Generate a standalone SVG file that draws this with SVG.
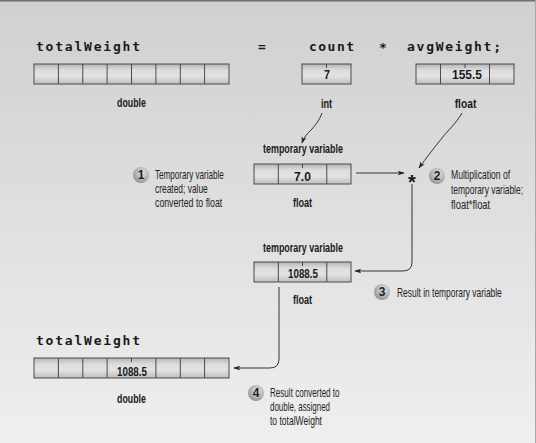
<svg xmlns="http://www.w3.org/2000/svg" width="536" height="443" viewBox="0 0 536 443">
<style>
.code{font-family:"DejaVu Sans Mono","Liberation Mono",monospace;font-weight:bold;font-size:13px;fill:#1a1a1a}
.lbl{font-family:"Liberation Sans Narrow","Liberation Sans",Arial,sans-serif;font-size:13px;font-weight:bold;fill:#1a1a1a;text-anchor:middle}
.num{font-family:"Liberation Sans Narrow","Liberation Sans",Arial,sans-serif;font-size:13.5px;font-weight:bold;fill:#1a1a1a;text-anchor:middle}
.note{font-family:"Liberation Sans Narrow","Liberation Sans",Arial,sans-serif;font-size:12.5px;fill:#1e1e1e}
.badge{font-family:"Liberation Sans",Arial,sans-serif;font-size:12px;font-weight:bold;fill:#1e1e1e;text-anchor:middle}
.box{fill:url(#cell);stroke:#4a4a4a;stroke-width:1}
.sep{stroke:#4a4a4a;stroke-width:1}
.tick{stroke:#4a4a4a;stroke-width:1}
.circ{fill:url(#ball)}
.conn{fill:none;stroke:#333;stroke-width:1;marker-end:url(#ah)}
</style>
<defs>
<linearGradient id="bg" x1="0" y1="0" x2="0" y2="1">
<stop offset="0" stop-color="#d0d0d0"/>
<stop offset="1" stop-color="#efefef"/>
</linearGradient>
<linearGradient id="cell" x1="0" y1="0" x2="0" y2="1">
<stop offset="0" stop-color="#b3b3b3"/>
<stop offset="0.3" stop-color="#dcdcdc"/>
<stop offset="0.6" stop-color="#e3e3e3"/>
<stop offset="1" stop-color="#bfbfbf"/>
</linearGradient>
<radialGradient id="ball" cx="0.6" cy="0.35" r="0.7">
<stop offset="0" stop-color="#e2e2e2"/>
<stop offset="0.6" stop-color="#b4b4b4"/>
<stop offset="1" stop-color="#8f8f8f"/>
</radialGradient>
<marker id="ah" viewBox="0 0 10 10" refX="9" refY="5" markerWidth="7" markerHeight="7" markerUnits="userSpaceOnUse" orient="auto">
<path d="M0,1.5 L10,5 L0,8.5 L2.5,5 Z" fill="#222"/>
</marker>
</defs>
<rect x="0" y="0" width="536" height="443" fill="url(#bg)"/>
<line x1="0" y1="0.8" x2="536" y2="0.8" stroke="#6e6e6e" stroke-width="1.6"/>
<line x1="535.5" y1="0" x2="535.5" y2="443" stroke="#a8a8a8" stroke-width="1"/>

<g id="node-totalWeight">
<text class="code" x="36" y="51" textLength="104" lengthAdjust="spacing">totalWeight</text>
<rect class="box" x="34" y="64" width="195" height="20"/>
<path class="sep" d="M58.4,64V84M82.8,64V84M107.1,64V84M131.5,64V84M155.9,64V84M180.3,64V84M204.6,64V84"/>
<text class="lbl" transform="matrix(0.8 0 0 1 131.5 107)" textLength="36" lengthAdjust="spacingAndGlyphs">double</text>
</g>

<g id="op-assign">
<text class="code" x="262" y="51" text-anchor="middle">=</text>
</g>

<g id="node-count">
<text class="code" x="309" y="51" textLength="45" lengthAdjust="spacing">count</text>
<rect class="box" x="302" y="64" width="49" height="20"/>
<line class="tick" x1="326.5" y1="64" x2="326.5" y2="68"/>
<text class="num" transform="matrix(0.8 0 0 1 327 79)">7</text>
<text class="lbl" transform="matrix(0.8 0 0 1 326.5 107.5)" textLength="14" lengthAdjust="spacingAndGlyphs">int</text>
</g>

<g id="op-mult">
<text class="code" x="383" y="52" text-anchor="middle" font-size="15">*</text>
</g>

<g id="node-avgWeight">
<text class="code" x="407" y="51" textLength="94" lengthAdjust="spacing">avgWeight;</text>
<rect class="box" x="416" y="64" width="98" height="20"/>
<path class="sep" d="M440.5,64V84M489.5,64V84"/>
<line class="tick" x1="465" y1="64" x2="465" y2="68"/>
<text class="num" transform="matrix(0.8 0 0 1 467 79)" textLength="37.5" lengthAdjust="spacingAndGlyphs">155.5</text>
<text class="lbl" transform="matrix(0.8 0 0 1 465.5 107.5)" textLength="27" lengthAdjust="spacingAndGlyphs">float</text>
</g>

<g id="node-temp1">
<text class="lbl" transform="matrix(0.8 0 0 1 303 153)" textLength="100" lengthAdjust="spacingAndGlyphs">temporary variable</text>
<rect class="box" x="254" y="164" width="97" height="20"/>
<path class="sep" d="M278.3,164V184M326.8,164V184"/>
<line class="tick" x1="302.5" y1="164" x2="302.5" y2="168"/>
<text class="num" transform="matrix(0.8 0 0 1 302.5 180.5)" textLength="21" lengthAdjust="spacingAndGlyphs">7.0</text>
<text class="lbl" transform="matrix(0.8 0 0 1 302.5 207)" textLength="24" lengthAdjust="spacingAndGlyphs">float</text>
</g>

<g id="op-product">
<text x="412" y="189" text-anchor="middle" font-family="Liberation Sans, Arial, sans-serif" font-weight="bold" font-size="20" fill="#1a1a1a">*</text>
</g>

<g id="node-temp2">
<text class="lbl" transform="matrix(0.8 0 0 1 303 252)" textLength="100" lengthAdjust="spacingAndGlyphs">temporary variable</text>
<rect class="box" x="254" y="262" width="97" height="20"/>
<path class="sep" d="M278.3,262V282M326.8,262V282"/>
<line class="tick" x1="302.5" y1="262" x2="302.5" y2="266"/>
<text class="num" transform="matrix(0.8 0 0 1 303 277.5)" textLength="37.5" lengthAdjust="spacingAndGlyphs">1088.5</text>
<text class="lbl" transform="matrix(0.8 0 0 1 302.5 304)" textLength="24" lengthAdjust="spacingAndGlyphs">float</text>
</g>

<g id="node-result">
<text class="code" x="36" y="345" textLength="104" lengthAdjust="spacing">totalWeight</text>
<rect class="box" x="34" y="358" width="195" height="20"/>
<path class="sep" d="M58.4,358V378M82.8,358V378M107.1,358V378M155.9,358V378M180.3,358V378M204.6,358V378"/>
<line class="tick" x1="131.5" y1="358" x2="131.5" y2="362"/>
<text class="num" transform="matrix(0.8 0 0 1 132 375.5)" textLength="37.5" lengthAdjust="spacingAndGlyphs">1088.5</text>
<text class="lbl" transform="matrix(0.8 0 0 1 131.5 403)" textLength="36" lengthAdjust="spacingAndGlyphs">double</text>
</g>

<g id="note-1">
<circle class="circ" cx="141" cy="175" r="8"/>
<text class="badge" x="141" y="179.3">1</text>
<text class="note" transform="matrix(0.8 0 0 1 155 179)" textLength="86" lengthAdjust="spacingAndGlyphs">Temporary variable</text>
<text class="note" transform="matrix(0.8 0 0 1 155 193)" textLength="66" lengthAdjust="spacingAndGlyphs">created; value</text>
<text class="note" transform="matrix(0.8 0 0 1 155 207)" textLength="84" lengthAdjust="spacingAndGlyphs">converted to float</text>
</g>

<g id="note-2">
<circle class="circ" cx="437" cy="176" r="8"/>
<text class="badge" x="437" y="180.3">2</text>
<text class="note" transform="matrix(0.8 0 0 1 451 179)" textLength="74" lengthAdjust="spacingAndGlyphs">Multiplication of</text>
<text class="note" transform="matrix(0.8 0 0 1 451 194)" textLength="90" lengthAdjust="spacingAndGlyphs">temporary variable;</text>
<text class="note" transform="matrix(0.8 0 0 1 451 209)" textLength="49" lengthAdjust="spacingAndGlyphs">float*float</text>
</g>

<g id="note-3">
<circle class="circ" cx="382" cy="292" r="8"/>
<text class="badge" x="382" y="296.3">3</text>
<text class="note" transform="matrix(0.8 0 0 1 397 297)" textLength="131" lengthAdjust="spacingAndGlyphs">Result in temporary variable</text>
</g>

<g id="note-4">
<circle class="circ" cx="256" cy="393" r="8"/>
<text class="badge" x="256" y="397.3">4</text>
<text class="note" transform="matrix(0.8 0 0 1 270 397)" textLength="87" lengthAdjust="spacingAndGlyphs">Result converted to</text>
<text class="note" transform="matrix(0.8 0 0 1 270 411)" textLength="75" lengthAdjust="spacingAndGlyphs">double, assigned</text>
<text class="note" transform="matrix(0.8 0 0 1 270 425)" textLength="65" lengthAdjust="spacingAndGlyphs">to totalWeight</text>
</g>

<g id="connectors">
<path class="conn" d="M322,113 C319,121 316,124 312,129 C307,134 304,137 302,143"/>
<path class="conn" d="M462,113 C455,125 448,130 442,138 C434,148 426,158 419,168"/>
<path class="conn" d="M356,173 H404"/>
<path class="conn" d="M412,184 V262 Q412,271 403,271 H355"/>
<path class="conn" d="M279,287 V359 Q279,368 270,368 H234"/>
</g>
</svg>
